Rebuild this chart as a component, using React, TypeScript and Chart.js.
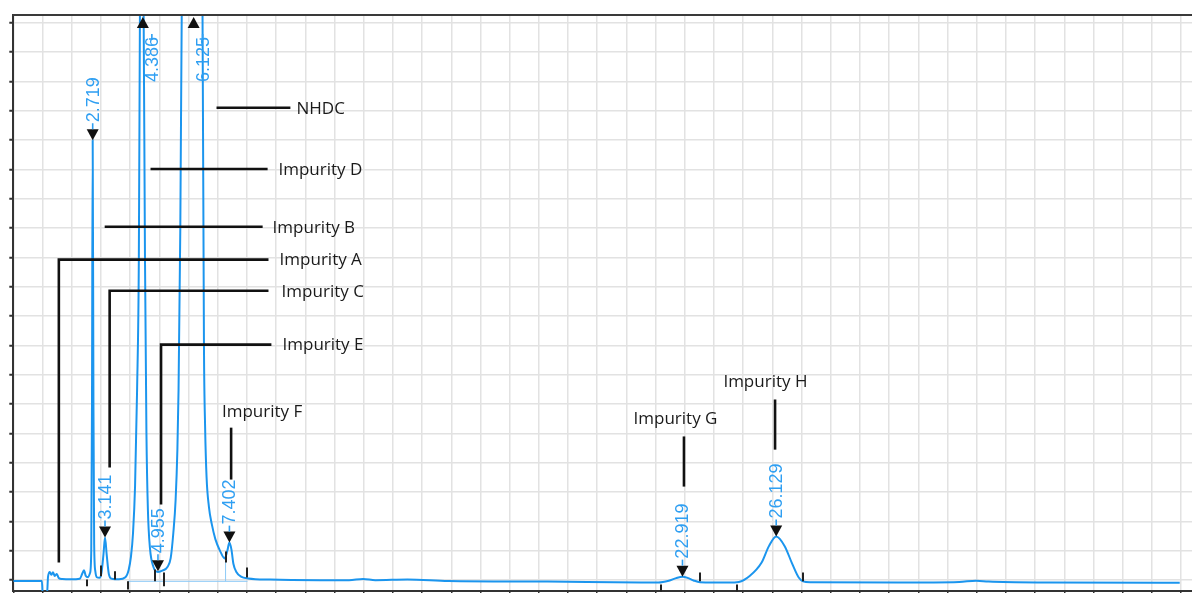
import React, { useEffect, useRef } from "react";
import { Chart, registerables } from "chart.js";

Chart.register(...registerables);

// Chromatogram trace: retention time (min) and detector signal (grid units)
const traceTime = [
  0, 0.98, 1.01, 1.15, 1.19, 1.25, 1.30, 1.36, 1.42, 1.49, 1.56, 1.68, 1.97, 2.28, 2.36, 2.42, 2.48, 2.56,
  2.63, 2.67, 2.695, 2.719, 2.745, 2.77, 2.81, 2.86, 2.95, 3.02, 3.09, 3.141, 3.20, 3.27, 3.37, 3.62,
  3.84, 3.95, 4.03, 4.10, 4.17, 4.24, 4.30, 4.34, 4.386, 4.46, 4.51, 4.56, 4.61, 4.68, 4.80, 4.955,
  5.12, 5.28, 5.39, 5.48, 5.56, 5.62, 5.66, 5.72, 5.77, 6.125, 6.48, 6.53, 6.57, 6.62, 6.70, 6.80,
  6.92, 7.08, 7.24, 7.33, 7.402, 7.47, 7.54, 7.64, 7.80, 8.05, 8.8, 10.5, 11.5, 11.98, 12.4, 13.5,
  14.9, 18.3, 21.5, 22.1, 22.45, 22.7, 22.919, 23.12, 23.3, 23.52, 24.5, 24.85, 25.22, 25.63, 25.88,
  26.129, 26.42, 26.66, 26.9, 27.05, 27.3, 30.3, 32.4, 32.98, 33.4, 35.5, 39.95,
];
const traceSignal = [
  -0.03, -0.03, -0.55, -0.55, 0.12, 0.28, 0.18, 0.27, 0.14, 0.21, 0.07, 0.04, 0.03, 0.05, 0.22, 0.34, 0.15, 0.1,
  0.25, 1.0, 6.0, 15.0, 6.0, 1.2, 0.3, 0.1, 0.08, 0.25, 0.9, 1.45, 0.85, 0.22, 0.05, 0.03,
  0.1, 0.35, 0.8, 1.6, 3.2, 6.5, 11, 20, 26, 20, 11, 5, 2.4, 1.1, 0.45, 0.28,
  0.33, 0.45, 0.75, 1.6, 2.75, 4.45, 6.5, 12, 19.5, 40, 19.5, 8, 5.2, 3.5, 2.5, 1.9,
  1.4, 1.0, 0.74, 1.0, 1.28, 1.05, 0.55, 0.28, 0.12, 0.06, 0.02, 0.0, 0.0, 0.04, 0.0, 0.02,
  -0.03, -0.05, -0.08, -0.08, -0.02, 0.07, 0.12, 0.07, -0.01, -0.07, -0.08, -0.06, 0.14, 0.6, 1.16,
  1.49, 1.16, 0.6, 0.09, -0.04, -0.07, -0.08, -0.06, -0.02, -0.05, -0.08, -0.09,
];

// Integrated peaks: retention time labels and apex height (null = off scale)
const peakTimes = [2.719, 3.141, 4.386, 4.955, 6.125, 7.402, 22.919, 26.129];
const peakLabels = ["2.719", "3.141", "4.386", "4.955", "6.125", "7.402", "22.919", "26.129"];
const peakApex: (number | null)[] = [15.0, 1.45, null, 0.3, null, 1.28, 0.12, 1.49];

// Integration start/end tick marks: time, upper and lower signal
const tickTimes = [2.51, 2.99, 3.47, 3.92, 4.84, 5.15, 7.27, 8.02, 22.19, 23.52, 24.79, 27.04];
const tickTop = [0.02, 0.5, 0.3, -0.04, 0.36, 0.26, 0.98, 0.43, -0.15, 0.26, -0.15, 0.26];
const tickBottom = [-0.21, 0.13, 0.02, -0.32, -0.04, -0.21, 0.6, 0.09, -0.39, -0.04, -0.39, -0.04];

// Peak identification labels with leader-line paths [time, signal]
const idNames = ["NHDC", "Impurity D", "Impurity B", "Impurity A", "Impurity C", "Impurity E", "Impurity F", "Impurity G", "Impurity H"];
const idPaths: number[][][] = [
  [[6.96, 16.11], [9.49, 16.11]],
  [[4.7, 14.02], [8.71, 14.02]],
  [[3.13, 12.05], [8.54, 12.05]],
  [[1.56, 0.6], [1.56, 10.93], [8.74, 10.93]],
  [[3.3, 3.84], [3.3, 9.87], [8.74, 9.87]],
  [[5.06, 2.58], [5.06, 8.03], [8.84, 8.03]],
  [[7.46, 3.43], [7.46, 5.2]],
  [[22.97, 3.19], [22.97, 4.9]],
  [[26.09, 4.45], [26.09, 6.16]],
];
const idTextPos: number[][] = [
  [9.7, 16.11], [9.08, 14.02], [8.88, 12.05], [9.12, 10.93], [9.19, 9.87], [9.22, 8.03],
  [8.52, 5.75], [22.68, 5.54], [25.76, 6.77],
];
const idTextAlign = ["left", "left", "left", "left", "left", "left", "center", "center", "center"];

const TRACE = "#1b95ee";
const LABEL_BLUE = "#2f9ff2";

const overlayPlugin = {
  id: "chromOverlay",
  beforeDatasetsDraw(chart: any) {
    const { ctx, scales } = chart;
    const x = scales.x, y = scales.y;
    ctx.save();
    ctx.strokeStyle = "#8ccaf7";
    ctx.lineWidth = 1;
    ctx.beginPath();
    ctx.moveTo(x.getPixelForValue(3.92), y.getPixelForValue(-0.04));
    ctx.lineTo(x.getPixelForValue(8.02), y.getPixelForValue(-0.04));
    ctx.moveTo(x.getPixelForValue(7.27), y.getPixelForValue(-0.04));
    ctx.lineTo(x.getPixelForValue(7.27), y.getPixelForValue(0.98));
    ctx.stroke();
    ctx.restore();
  },
  afterDatasetsDraw(chart: any) {
    const { ctx, chartArea, scales } = chart;
    const x = scales.x, y = scales.y;
    ctx.save();

    // top frame
    ctx.strokeStyle = "#3a3a3a";
    ctx.lineWidth = 2;
    ctx.beginPath();
    ctx.moveTo(chartArea.left - 1, chartArea.top);
    ctx.lineTo(chartArea.right, chartArea.top);
    ctx.stroke();

    // integration ticks
    ctx.strokeStyle = "#222";
    ctx.lineWidth = 2;
    ctx.beginPath();
    tickTimes.forEach((t, i) => {
      const px = Math.round(x.getPixelForValue(t));
      ctx.moveTo(px, y.getPixelForValue(tickTop[i]));
      ctx.lineTo(px, y.getPixelForValue(tickBottom[i]));
    });
    ctx.stroke();

    // leader lines
    ctx.strokeStyle = "#111";
    ctx.lineWidth = 2.6;
    idPaths.forEach((path) => {
      ctx.beginPath();
      path.forEach((p, j) => {
        const px = x.getPixelForValue(p[0]);
        const py = y.getPixelForValue(p[1]);
        if (j === 0) ctx.moveTo(px, py);
        else ctx.lineTo(px, py);
      });
      ctx.stroke();
    });

    // identification text
    ctx.fillStyle = "#1a1a1a";
    ctx.font = '17px "Open Sans", "Noto Sans", sans-serif';
    ctx.textBaseline = "middle";
    idNames.forEach((name, i) => {
      ctx.textAlign = idTextAlign[i] as CanvasTextAlign;
      ctx.fillText(name, x.getPixelForValue(idTextPos[i][0]), y.getPixelForValue(idTextPos[i][1]) + 1);
    });

    // peak markers + retention time labels
    ctx.font = '18px "Liberation Sans", Arial, sans-serif';
    peakTimes.forEach((t, i) => {
      const px = x.getPixelForValue(t);
      const apex = peakApex[i];
      if (apex !== null) {
        const py = y.getPixelForValue(apex);
        ctx.fillStyle = "#111";
        ctx.beginPath();
        ctx.moveTo(px, py);
        ctx.lineTo(px - 6, py - 11);
        ctx.lineTo(px + 6, py - 11);
        ctx.closePath();
        ctx.fill();
        ctx.strokeStyle = LABEL_BLUE;
        ctx.lineWidth = 1.6;
        ctx.beginPath();
        ctx.moveTo(px, py - 11);
        ctx.lineTo(px, py - 17);
        ctx.stroke();
        ctx.save();
        ctx.translate(px, py - 18);
        ctx.rotate(-Math.PI / 2);
        ctx.textAlign = "left";
        ctx.textBaseline = "middle";
        ctx.fillStyle = LABEL_BLUE;
        ctx.fillText(peakLabels[i], 0, 1);
        ctx.restore();
      } else {
        const top = chartArea.top;
        const cx = px + 1.5;
        ctx.fillStyle = "#111";
        ctx.beginPath();
        ctx.moveTo(cx, top + 2);
        ctx.lineTo(cx - 6, top + 13);
        ctx.lineTo(cx + 6, top + 13);
        ctx.closePath();
        ctx.fill();
        const tx = cx + 9;
        ctx.strokeStyle = LABEL_BLUE;
        ctx.lineWidth = 1.6;
        ctx.beginPath();
        ctx.moveTo(tx - 3, top + 24);
        ctx.lineTo(tx, top + 24);
        ctx.lineTo(tx, top + 19);
        ctx.stroke();
        ctx.save();
        ctx.translate(tx, top + 67);
        ctx.rotate(-Math.PI / 2);
        ctx.textAlign = "left";
        ctx.textBaseline = "middle";
        ctx.fillStyle = LABEL_BLUE;
        ctx.fillText(peakLabels[i], 0, 1);
        ctx.restore();
      }
    });

    ctx.restore();
  },
};

export default function App() {
  const canvasRef = useRef<HTMLCanvasElement | null>(null);

  useEffect(() => {
    if (!canvasRef.current) return;
    const points = traceTime.map((t, i) => ({ x: t, y: traceSignal[i] }));
    const gridColor = "#e2e2e2";
    const chart = new Chart(canvasRef.current, {
      type: "line",
      data: {
        datasets: [
          {
            data: points,
            borderColor: TRACE,
            borderWidth: 2,
            pointRadius: 0,
            fill: false,
            cubicInterpolationMode: "monotone",
          },
        ],
      },
      options: {
        responsive: false,
        animation: false,
        events: [],
        layout: { padding: { left: 9.3, top: 15, right: 0, bottom: 0 } },
        plugins: { legend: { display: false }, tooltip: { enabled: false } },
        scales: {
          x: {
            type: "linear",
            min: 0,
            max: 40.37,
            ticks: { display: false, stepSize: 1, includeBounds: false },
            grid: { color: gridColor, lineWidth: 1.5, tickColor: "#333", tickLength: 2, tickWidth: 1.5 },
            border: { color: "#333", width: 2 },
          },
          y: {
            type: "linear",
            min: -0.37,
            max: 19.27,
            ticks: { display: false, stepSize: 1, includeBounds: false },
            grid: { color: gridColor, lineWidth: 1.5, tickColor: "#333", tickLength: 4, tickWidth: 2 },
            border: { color: "#333", width: 2 },
          },
        },
      },
      plugins: [overlayPlugin],
    } as any);
    return () => chart.destroy();
  }, []);

  return (
    <div style={{ position: "absolute", left: 0, top: 0, width: 1192, height: 593, background: "#fff" }}>
      <canvas ref={canvasRef} width={1192} height={593} style={{ display: "block" }} />
    </div>
  );
}
